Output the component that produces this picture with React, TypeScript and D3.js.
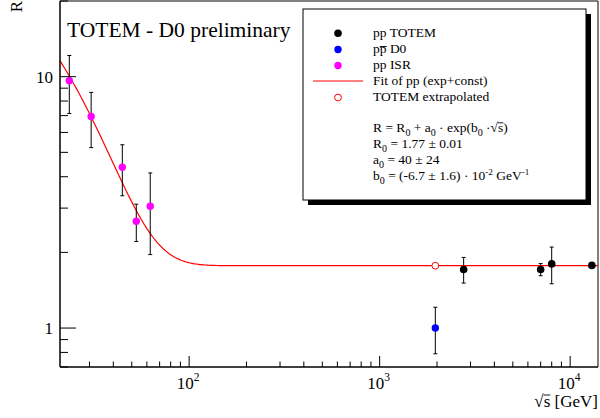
import React, { useLayoutEffect, useRef, useState } from "react";
import * as d3 from "d3";

const W = 600;
const H = 418;

// ISR pp
const isrX = [23.5, 30.6, 44.6, 52.8, 62.5];
const isrY = [9.64, 6.94, 4.36, 2.66, 3.05];
const isrErr = [2.5, 1.72, 1.0, 0.45, 1.09];
// TOTEM pp
const totemX = [2760, 7000, 8000, 13000];
const totemY = [1.71, 1.71, 1.8, 1.775];
const totemErr = [0.2, 0.095, 0.3, 0.02];
// D0 ppbar
const d0X = [1960];
const d0Y = [1.0];
const d0Err = [0.21];
// TOTEM extrapolated
const extX = [1960];
const extY = [1.77];
// fit parameters
const fitR0 = 1.77;
const fitA0 = 40;
const fitB0 = -0.067;

const xTickMajors = [100, 1000, 10000];
const xTickLabels = ["2", "3", "4"];
const yTickMajors = [1, 10];
const yTickLabels = ["1", "10"];

const FONT = "'Liberation Serif', 'Times New Roman', serif";

type OL = { x1: number; x2: number; y: number };

export default function App() {
  const svgRef = useRef<SVGSVGElement>(null);
  const [ols, setOls] = useState<OL[]>([]);

  useLayoutEffect(() => {
    const svg = svgRef.current;
    if (!svg) return;
    const arr: OL[] = [];
    svg.querySelectorAll("[data-ol]").forEach((el) => {
      const bb = (el as any).getBBox();
      const yv = +(el.getAttribute("data-ol") || 0);
      arr.push({ x1: bb.x, x2: bb.x + bb.width, y: yv });
    });
    setOls(arr);
  }, []);

  const left = 60, right = 598, top = 1, bottom = 367;
  const x = d3.scaleLog().domain([21, 14000]).range([left, right]);
  const y = d3.scaleLog().domain([0.7, 20]).range([bottom, top]);

  const xMinor: number[] = [];
  for (let d = 10; d <= 10000; d *= 10) {
    for (let k = 2; k <= 9; k++) {
      const v = d * k;
      if (v >= 21 && v <= 14000) xMinor.push(v);
    }
  }
  const yMinor: number[] = [];
  for (let d = 0.1; d <= 10; d *= 10) {
    for (let k = 2; k <= 9; k++) {
      const v = d * k;
      if (v >= 0.7 && v <= 20.001) yMinor.push(v);
    }
  }

  const fitPts: [number, number][] = [];
  const n = 400;
  for (let i = 0; i <= n; i++) {
    const lv = Math.log10(21) + (Math.log10(14000) - Math.log10(21)) * (i / n);
    const v = Math.pow(10, lv);
    fitPts.push([v, fitR0 + fitA0 * Math.exp(fitB0 * v)]);
  }
  const line = d3
    .line<[number, number]>()
    .x((d) => x(d[0]))
    .y((d) => y(d[1]));

  const errBar = (xv: number, yv: number, e: number, key: string) => {
    const cx = x(xv);
    const y1 = y(yv + e);
    const y2 = y(Math.max(yv - e, 0.01));
    return (
      <g key={key} stroke="#000" strokeWidth={1}>
        <line x1={cx} x2={cx} y1={y1} y2={y2} />
        <line x1={cx - 2} x2={cx + 2} y1={y1} y2={y1} />
        <line x1={cx - 2} x2={cx + 2} y1={y2} y2={y2} />
      </g>
    );
  };

  const lx = 303, ly = 9, lw = 283, lh = 191;
  const tx = 373;
  const mx = 338;
  const fs = 13.5;

  return (
    <svg
      ref={svgRef}
      width={W}
      height={H}
      style={{ position: "fixed", left: 0, top: 0, background: "#fff" }}
      fontFamily={FONT}
    >
      <rect x={0} y={0} width={W} height={H} fill="#fff" />
      <defs>
        <clipPath id="plotclip">
          <rect x={left} y={top} width={right - left} height={bottom - top} />
        </clipPath>
      </defs>

      {/* frame */}
      <line x1={left} x2={right} y1={top} y2={top} stroke="#000" strokeWidth={1} />
      <line x1={right} x2={right} y1={top} y2={bottom} stroke="#000" strokeWidth={1} />

      {/* fit curve */}
      <path d={line(fitPts) || ""} fill="none" stroke="#ff0000" strokeWidth={1.2} clipPath="url(#plotclip)" />

      {/* error bars */}
      {isrX.map((v, i) => errBar(v, isrY[i], isrErr[i], "ie" + i))}
      {totemX.map((v, i) => errBar(v, totemY[i], totemErr[i], "te" + i))}
      {d0X.map((v, i) => errBar(v, d0Y[i], d0Err[i], "de" + i))}

      {/* markers */}
      {isrX.map((v, i) => (
        <circle key={"i" + i} cx={x(v)} cy={y(isrY[i])} r={3.7} fill="#ff00ff" />
      ))}
      {totemX.map((v, i) => (
        <circle key={"t" + i} cx={x(v)} cy={y(totemY[i])} r={3.8} fill="#000" />
      ))}
      {d0X.map((v, i) => (
        <circle key={"d" + i} cx={x(v)} cy={y(d0Y[i])} r={3.7} fill="#0000ff" />
      ))}
      {extX.map((v, i) => (
        <circle key={"e" + i} cx={x(v)} cy={y(extY[i])} r={3.4} fill="#fff" stroke="#ff0000" strokeWidth={1} />
      ))}

      {/* axes */}
      <line x1={left} x2={right} y1={bottom} y2={bottom} stroke="#000" strokeWidth={1.5} />
      <line x1={left} x2={left} y1={top} y2={bottom} stroke="#000" strokeWidth={1.5} />
      {xTickMajors.map((v) => (
        <line key={"xM" + v} x1={x(v)} x2={x(v)} y1={bottom} y2={bottom - 11} stroke="#000" strokeWidth={1} />
      ))}
      {xMinor.map((v) => (
        <line key={"xm" + v} x1={x(v)} x2={x(v)} y1={bottom} y2={bottom - 5.5} stroke="#000" strokeWidth={1} />
      ))}
      {yTickMajors.map((v) => (
        <line key={"yM" + v} x1={left} x2={left + 16} y1={y(v)} y2={y(v)} stroke="#000" strokeWidth={1} />
      ))}
      {yMinor.map((v) => (
        <line key={"ym" + v} x1={left} x2={left + 8} y1={y(v)} y2={y(v)} stroke="#000" strokeWidth={1} />
      ))}

      {/* tick labels */}
      {xTickMajors.map((v, i) => (
        <text key={"xl" + v} x={x(v) - 1} y={389} textAnchor="middle" fontSize={17}>
          10
          <tspan dy={-8} fontSize={11.5}>
            {xTickLabels[i]}
          </tspan>
        </text>
      ))}
      {yTickMajors.map((v, i) => (
        <text key={"yl" + v} x={53} y={y(v) + 6} textAnchor="end" fontSize={17}>
          {yTickLabels[i]}
        </text>
      ))}

      {/* axis titles */}
      <text x={598} y={407} textAnchor="end" fontSize={17}>
        √<tspan data-ol={395}>s</tspan> [GeV]
      </text>
      <text transform="translate(22,1) rotate(-90)" textAnchor="end" fontSize={17}>
        R
      </text>

      {/* title */}
      <text x={67} y={36.7} fontSize={21.5}>
        TOTEM - D0 preliminary
      </text>

      {/* legend */}
      <rect x={lx + 5} y={ly + 5} width={lw} height={lh} fill="#000" />
      <rect x={lx} y={ly} width={lw} height={lh} fill="#fff" stroke="#000" strokeWidth={1} />
      <circle cx={mx} cy={33.3} r={3.8} fill="#000" />
      <text x={tx} y={37} fontSize={fs}>pp TOTEM</text>
      <circle cx={mx} cy={49.5} r={3.7} fill="#0000ff" />
      <text x={tx} y={53} fontSize={fs}>
        p<tspan data-ol={46.5}>p</tspan> D0
      </text>
      <circle cx={mx} cy={65.5} r={3.7} fill="#ff00ff" />
      <text x={tx} y={69} fontSize={fs}>pp ISR</text>
      <line x1={313} x2={363} y1={81} y2={81} stroke="#ff0000" strokeWidth={1} />
      <text x={tx} y={85} fontSize={fs}>Fit of pp (exp+const)</text>
      <circle cx={mx} cy={97.5} r={3.4} fill="#fff" stroke="#ff0000" strokeWidth={1} />
      <text x={tx} y={101} fontSize={fs}>TOTEM extrapolated</text>

      <text x={tx} y={132} fontSize={fs}>
        R = R<tspan dy={4} fontSize={10}>0</tspan>
        <tspan dy={-4}> + a</tspan>
        <tspan dy={4} fontSize={10}>0</tspan>
        <tspan dy={-4}> · exp(b</tspan>
        <tspan dy={4} fontSize={10}>0</tspan>
        <tspan dy={-4}> ·√</tspan>
        <tspan data-ol={122.8}>s</tspan>
        <tspan>)</tspan>
      </text>
      <text x={tx} y={148} fontSize={fs}>
        R<tspan dy={4} fontSize={10}>0</tspan>
        <tspan dy={-4}> = 1.77 ± 0.01</tspan>
      </text>
      <text x={tx} y={164} fontSize={fs}>
        a<tspan dy={4} fontSize={10}>0</tspan>
        <tspan dy={-4}> = 40 ± 24</tspan>
      </text>
      <text x={tx} y={180} fontSize={fs}>
        b<tspan dy={4} fontSize={10}>0</tspan>
        <tspan dy={-4}> = (-6.7 ± 1.6) · 10</tspan>
        <tspan dy={-5} fontSize={9}>-2</tspan>
        <tspan dy={5}> GeV</tspan>
        <tspan dy={-5} fontSize={9}>-1</tspan>
      </text>

      {ols.map((o, i) => (
        <line key={"ol" + i} x1={o.x1} x2={o.x2} y1={o.y} y2={o.y} stroke="#000" strokeWidth={0.9} />
      ))}
    </svg>
  );
}
